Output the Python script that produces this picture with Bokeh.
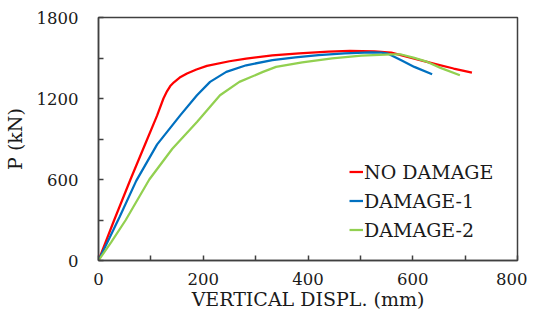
from bokeh.plotting import figure
from bokeh.models import FixedTicker, Range1d, Legend, LegendItem
from bokeh.embed import file_html
from bokeh.resources import INLINE

# Data
nd_x = [0, 30, 61, 91, 112, 124, 131, 137, 144, 155, 169, 187, 207, 250, 282, 332, 383, 439, 480, 527, 559, 590, 640, 678, 713]
nd_y = [0, 300, 600, 880, 1075, 1200, 1255, 1292, 1320, 1355, 1385, 1415, 1442, 1476, 1496, 1520, 1535, 1548, 1552, 1549, 1540, 1508, 1459, 1422, 1392]

d1_x = [0, 20, 40, 72, 112, 156, 188, 213, 244, 282, 332, 376, 420, 470, 520, 540, 552, 578, 603, 637]
d1_y = [0, 160, 320, 590, 860, 1075, 1224, 1323, 1397, 1446, 1484, 1505, 1522, 1535, 1542, 1540, 1533, 1483, 1434, 1379]

d2_x = [0, 24, 52, 97, 141, 188, 232, 269, 314, 339, 389, 446, 502, 559, 578, 603, 628, 653, 690]
d2_y = [0, 135, 300, 600, 828, 1026, 1224, 1323, 1397, 1434, 1468, 1497, 1517, 1526, 1526, 1501, 1471, 1427, 1372]

series_names = ["NO DAMAGE", "DAMAGE-1", "DAMAGE-2"]
series_colors = ["#FF0000", "#0070C0", "#92D050"]

x_major = [0, 200, 400, 600, 800]
x_minor = [100, 300, 500, 700]
y_major = [0, 600, 1200, 1800]
y_minor = [300, 900, 1500]

FONT = "DejaVu Serif"
TXT = "#1a1a1a"
FRAME = "#404040"

p = figure(width=527, height=312, output_backend="svg", toolbar_location=None,
           x_range=Range1d(0, 800), y_range=Range1d(0, 1800),
           min_border_left=92, min_border_right=10, min_border_top=17, min_border_bottom=48)

p.xgrid.visible = False
p.ygrid.visible = False
p.outline_line_color = FRAME
p.outline_line_width = 1.5
p.background_fill_color = "white"
p.border_fill_color = "white"

p.xaxis.ticker = FixedTicker(ticks=x_major, minor_ticks=x_minor)
p.yaxis.ticker = FixedTicker(ticks=y_major, minor_ticks=y_minor)

for ax in (p.xaxis, p.yaxis):
    ax.axis_line_color = FRAME
    ax.axis_line_width = 1.5
    ax.major_tick_line_color = FRAME
    ax.minor_tick_line_color = FRAME
    ax.major_tick_line_width = 1.5
    ax.minor_tick_line_width = 1.5
    ax.major_tick_in = 5
    ax.major_tick_out = 0
    ax.minor_tick_in = 5
    ax.minor_tick_out = 0
    ax.major_label_text_font = FONT
    ax.major_label_text_font_size = "16.5px"
    ax.major_label_text_color = TXT
    ax.axis_label_text_font = FONT
    ax.axis_label_text_font_size = "19px"
    ax.axis_label_text_font_style = "normal"
    ax.axis_label_text_color = TXT

p.xaxis.axis_label = "VERTICAL DISPL. (mm)"
p.yaxis.axis_label = "P (kN)"
p.xaxis.major_label_standoff = 12
p.xaxis.axis_label_standoff = 0
p.yaxis.major_label_standoff = 20
p.yaxis.axis_label_standoff = 8

r1 = p.line(nd_x, nd_y, line_color=series_colors[0], line_width=2.25)
r2 = p.line(d1_x, d1_y, line_color=series_colors[1], line_width=2.25)
r3 = p.line(d2_x, d2_y, line_color=series_colors[2], line_width=2.25)

legend = Legend(items=[LegendItem(label=series_names[0], renderers=[r1]),
                       LegendItem(label=series_names[1], renderers=[r2]),
                       LegendItem(label=series_names[2], renderers=[r3])],
                location=(251, 16))
legend.label_text_font = FONT
legend.label_text_font_size = "19px"
legend.label_text_color = TXT
legend.glyph_width = 14
legend.glyph_height = 29
legend.label_height = 29
legend.label_standoff = 1
legend.spacing = 0
legend.padding = 0
legend.margin = 0
legend.border_line_color = None
legend.background_fill_alpha = 0
p.add_layout(legend)

open("out.html", "w").write(file_html(p, INLINE))
